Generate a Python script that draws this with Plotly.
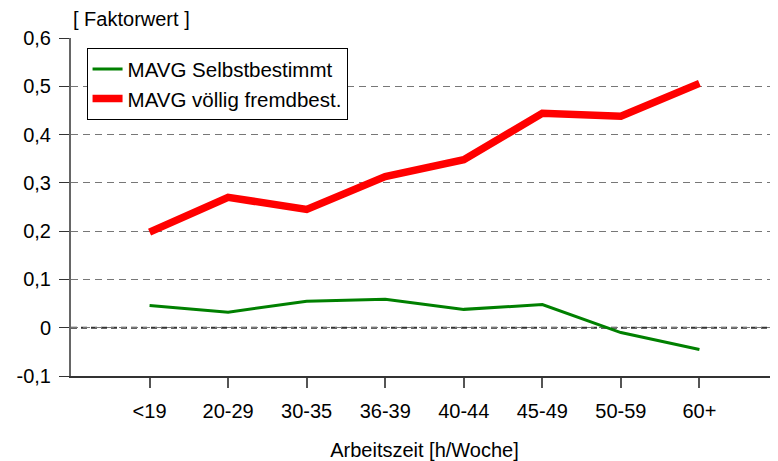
import plotly.graph_objects as go

# Wochenarbeitszeit-Kategorien
kategorien = ["<19", "20-29", "30-35", "36-39", "40-44", "45-49", "50-59", "60+"]

# Faktorwerte
selbstbestimmt = [0.046, 0.032, 0.055, 0.059, 0.038, 0.048, -0.010, -0.045]
fremdbestimmt = [0.198, 0.270, 0.245, 0.313, 0.348, 0.444, 0.438, 0.506]

y_ticks = [-0.1, 0, 0.1, 0.2, 0.3, 0.4, 0.5, 0.6]
y_labels = ["-0,1", "0", "0,1", "0,2", "0,3", "0,4", "0,5", "0,6"]

schrift = "Liberation Sans, Arial, sans-serif"

fig = go.Figure()
fig.add_trace(go.Scatter(x=kategorien, y=selbstbestimmt, mode="lines",
                         name="MAVG Selbstbestimmt",
                         line=dict(color="#008000", width=3)))
fig.add_trace(go.Scatter(x=kategorien, y=fremdbestimmt, mode="lines",
                         name="MAVG völlig fremdbest.",
                         line=dict(color="#ff0000", width=7.5)))

# Nulllinie gestrichelt, dunkler als das Gitter
fig.add_shape(type="line", xref="paper", x0=0, x1=1, yref="y", y0=0, y1=0,
              line=dict(color="#333333", width=2, dash="6px,4px"), layer="below")

# die Seite hat 8px Rand im body -> Figur entsprechend kleiner
fig.update_layout(
    width=770, height=453,
    margin=dict(l=63, r=0, t=30, b=85),
    paper_bgcolor="white", plot_bgcolor="white",
    font=dict(family=schrift, size=20, color="black"),
    showlegend=True,
    legend=dict(x=0.022, y=0.97, xanchor="left", yanchor="top",
                bgcolor="white", bordercolor="black", borderwidth=1,
                font=dict(size=20.5), itemwidth=30, tracegroupgap=0),
    xaxis=dict(
        type="category", range=[-1, 8], automargin=False,
        categoryorder="array", categoryarray=kategorien,
        showgrid=False, zeroline=False,
        showline=True, linecolor="#333333", linewidth=2,
        ticks="outside", ticklen=10, tickcolor="#555555", tickwidth=1.5,
        ticklabelstandoff=6,
        tickfont=dict(size=20),
        title=dict(text="Arbeitszeit [h/Woche]", font=dict(size=20), standoff=22),
    ),
    yaxis=dict(
        range=[-0.1, 0.6], tickvals=y_ticks, ticktext=y_labels, automargin=False,
        showgrid=True, gridcolor="#777777", griddash="7px,5px", gridwidth=1,
        zeroline=False,
        showline=True, linecolor="#666666", linewidth=2,
        ticks="outside", ticklen=10, tickcolor="#333333",
        ticklabelstandoff=4,
        tickfont=dict(size=20),
    ),
    annotations=[dict(text="[ Faktorwert ]", xref="paper", yref="paper",
                      x=0.0, y=1.0, xanchor="left", yanchor="bottom",
                      yshift=6, showarrow=False, font=dict(size=20))],
)

fig.write_html("out.html")
